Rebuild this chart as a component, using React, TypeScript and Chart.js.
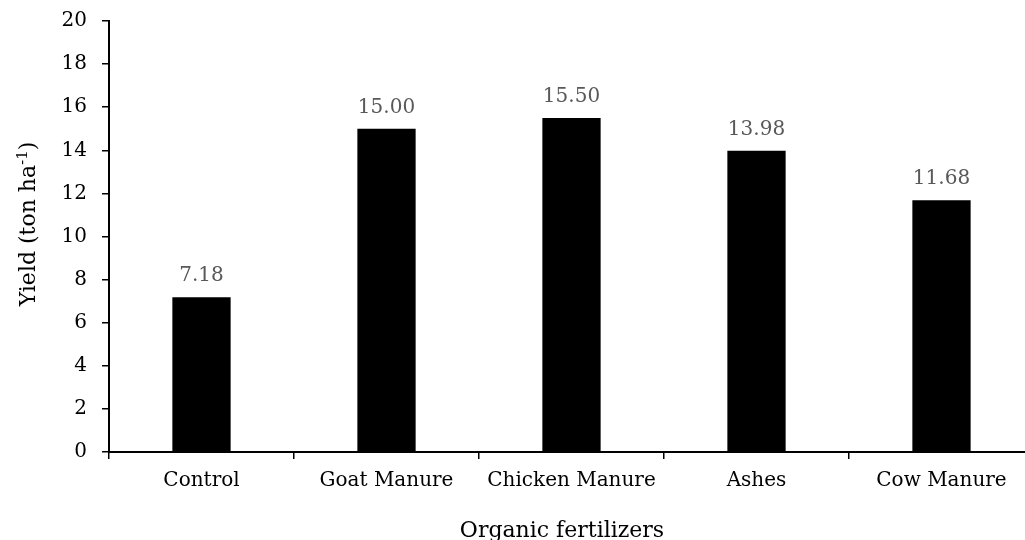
import React, { useEffect, useRef } from "react";
import { Chart, registerables } from "chart.js";

Chart.register(...registerables);

const categories = ["Control", "Goat Manure", "Chicken Manure", "Ashes", "Cow Manure"];
const yieldValues = [7.18, 15.0, 15.5, 13.98, 11.68];
const valueLabels = ["7.18", "15.00", "15.50", "13.98", "11.68"];
const yTitleMain = "Yield (ton ha";
const yTitleSup = "-1";
const yTitleEnd = ")";
const xTitle = "Organic fertilizers";

const FONT = "'DejaVu Serif', serif";

const valueLabelPlugin = {
  id: "valueLabels",
  afterDatasetsDraw(chart: any) {
    const ctx = chart.ctx;
    const meta = chart.getDatasetMeta(0);
    ctx.save();
    ctx.font = `20px ${FONT}`;
    ctx.fillStyle = "#595959";
    ctx.textAlign = "center";
    ctx.textBaseline = "alphabetic";
    meta.data.forEach((bar: any, i: number) => {
      ctx.fillText(valueLabels[i], bar.x, bar.y - 16);
    });
    ctx.restore();
  },
};

const titlesPlugin = {
  id: "axisTitles",
  afterDraw(chart: any) {
    const ctx = chart.ctx;
    ctx.save();
    ctx.fillStyle = "#000000";
    ctx.font = `22px ${FONT}`;
    ctx.textAlign = "center";
    ctx.textBaseline = "alphabetic";
    ctx.fillText(xTitle, 562, 537);
    const mainFont = `22px ${FONT}`;
    const supFont = `15px ${FONT}`;
    ctx.font = mainFont;
    const w1 = ctx.measureText(yTitleMain).width;
    const w3 = ctx.measureText(yTitleEnd).width;
    ctx.font = supFont;
    const w2 = ctx.measureText(yTitleSup).width;
    const total = w1 + w2 + w3;
    ctx.translate(35, 224);
    ctx.rotate(-Math.PI / 2);
    ctx.textAlign = "left";
    let x = -total / 2;
    ctx.font = mainFont;
    ctx.fillText(yTitleMain, x, 0);
    x += w1;
    ctx.font = supFont;
    ctx.fillText(yTitleSup, x, -8);
    x += w2;
    ctx.font = mainFont;
    ctx.fillText(yTitleEnd, x, 0);
    ctx.restore();
  },
};

export default function App() {
  const ref = useRef<HTMLCanvasElement>(null);
  useEffect(() => {
    if (!ref.current) return;
    const chart = new Chart(ref.current, {
      type: "bar",
      data: {
        labels: categories,
        datasets: [
          {
            data: yieldValues,
            backgroundColor: "#000000",
            borderWidth: 0,
            categoryPercentage: 1,
            barPercentage: 0.315,
          },
        ],
      },
      options: {
        responsive: false,
        animation: false,
        devicePixelRatio: 1,
        layout: { padding: { top: 21, right: 6, bottom: 0, left: 0 } },
        plugins: { legend: { display: false }, tooltip: { enabled: false } },
        scales: {
          x: {
            grid: {
              offset: true,
              drawOnChartArea: false,
              drawTicks: true,
              tickLength: 7,
              color: "#000000",
              lineWidth: 1.5,
            },
            border: { display: true, color: "#000000", width: 2 },
            ticks: {
              color: "#000000",
              font: { family: FONT, size: 20 },
              padding: 10,
              maxRotation: 0,
              autoSkip: false,
            },
            afterFit(scale: any) {
              scale.height = 88;
              scale.paddingLeft = 0;
              scale.paddingRight = 0;
            },
          },
          y: {
            min: 0,
            max: 20,
            grid: {
              drawOnChartArea: false,
              drawTicks: true,
              tickLength: 7,
              color: "#000000",
              lineWidth: 1.5,
            },
            border: { display: true, color: "#000000", width: 2 },
            ticks: {
              stepSize: 2,
              color: "#000000",
              font: { family: FONT, size: 20 },
              padding: 15,
            },
            afterFit(scale: any) {
              scale.width = 109;
              scale.paddingTop = 0;
              scale.paddingBottom = 0;
            },
          },
        },
      },
      plugins: [valueLabelPlugin, titlesPlugin],
    });
    return () => chart.destroy();
  }, []);

  return (
    <div
      style={{
        position: "fixed",
        left: 0,
        top: 0,
        width: 1025,
        height: 540,
        overflow: "hidden",
        background: "#ffffff",
      }}
    >
      <canvas ref={ref} width={1040} height={540} style={{ display: "block" }} />
    </div>
  );
}
